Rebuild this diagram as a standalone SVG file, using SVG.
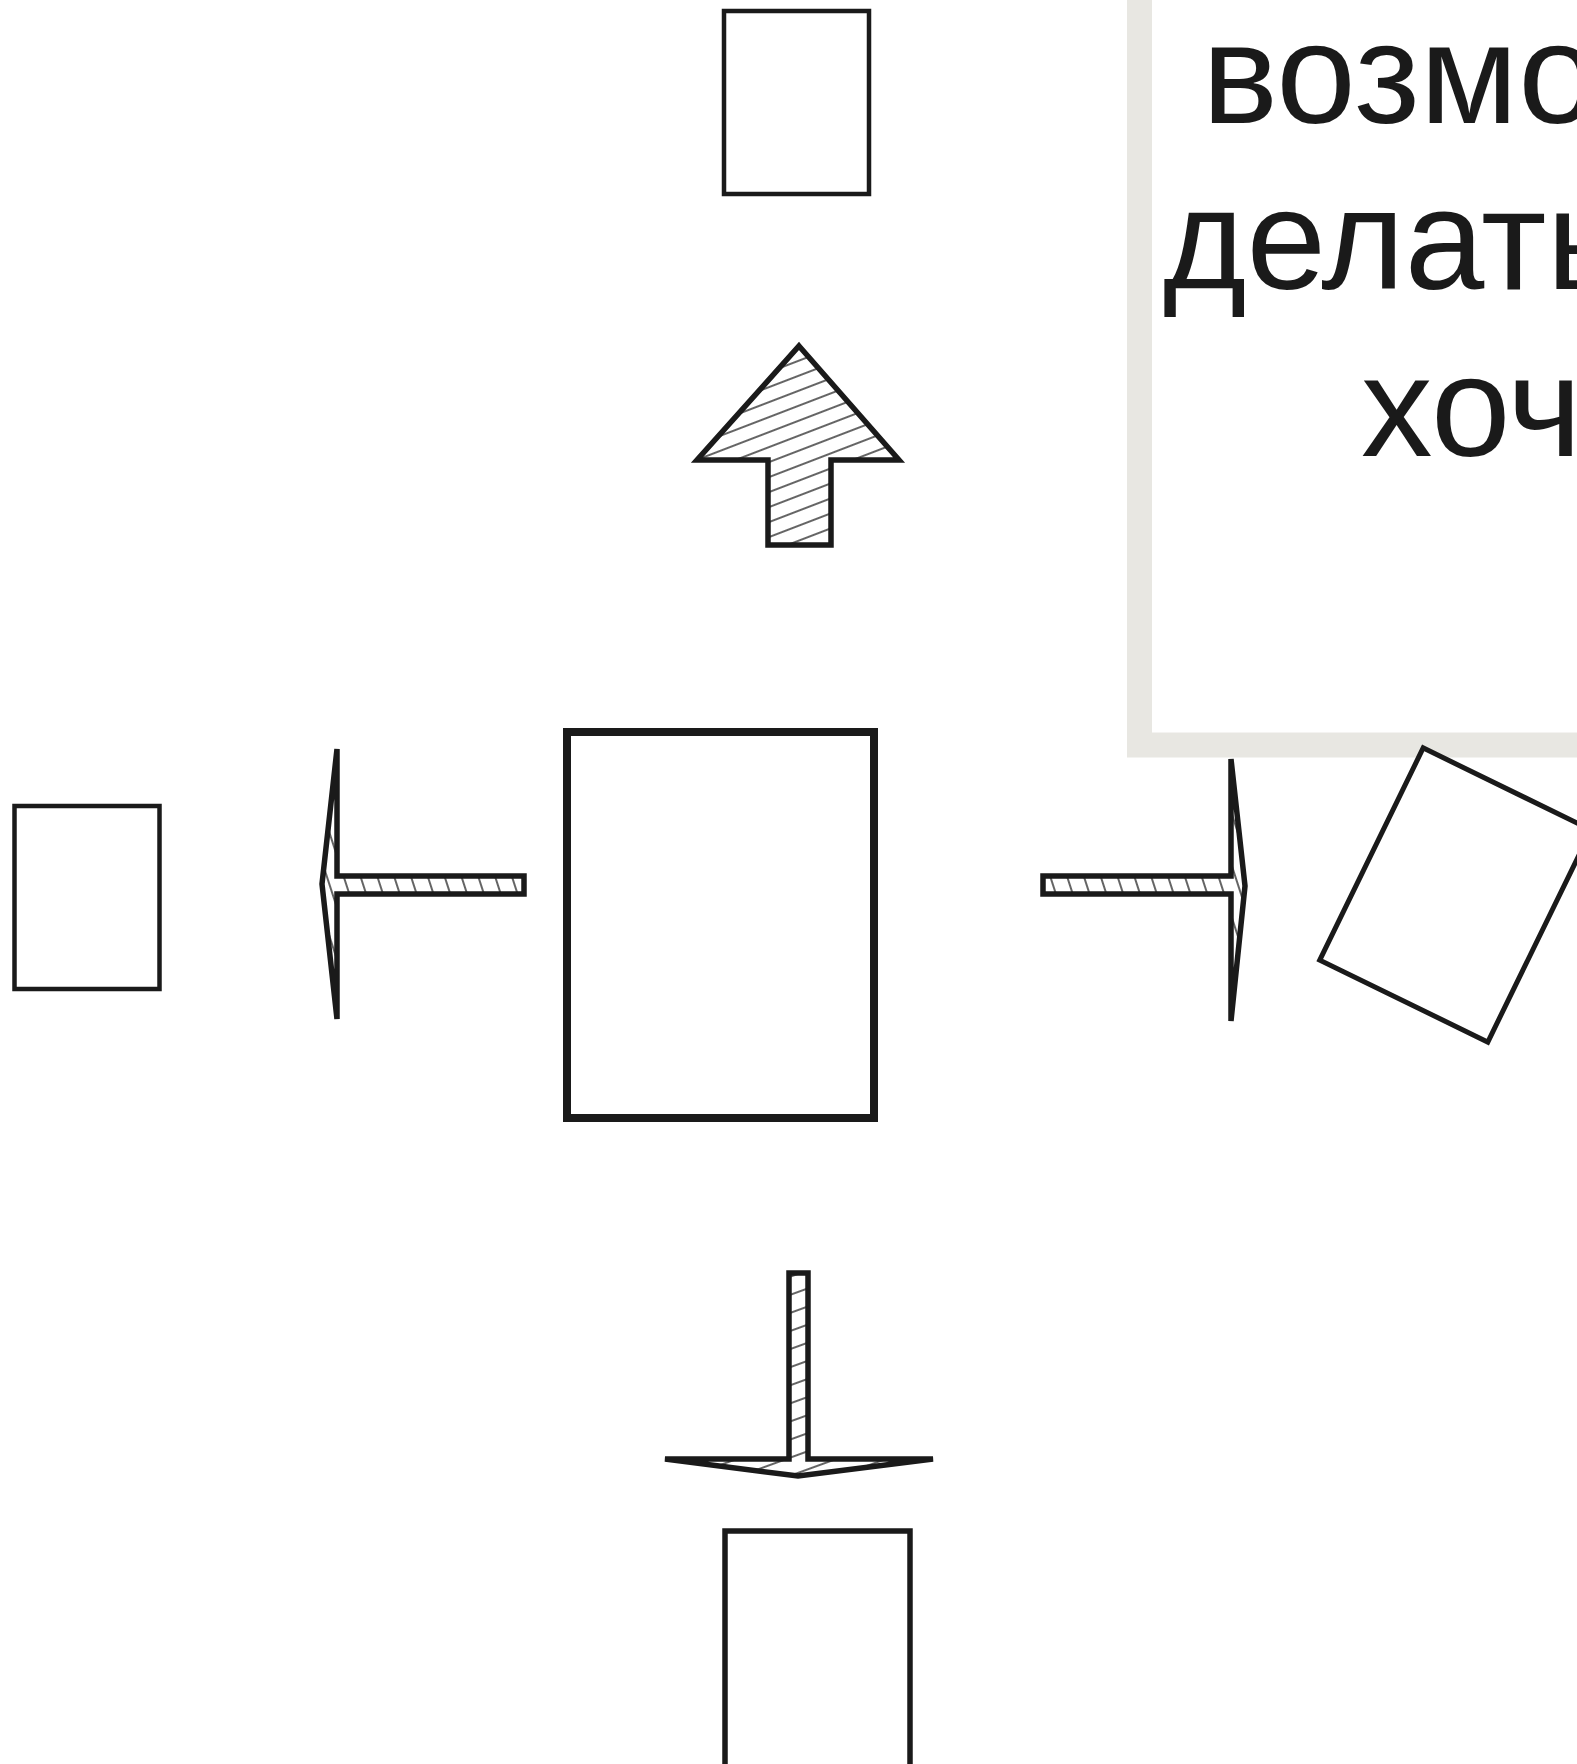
<svg xmlns="http://www.w3.org/2000/svg" width="1577" height="1764" viewBox="0 0 1577 1764">
<style>
.box{fill:#fff;stroke:#1a1a1a;stroke-width:4.5}
.arrow{stroke:#1a1a1a;stroke-width:5.5;stroke-linejoin:miter;stroke-miterlimit:4}
.txt{font-family:"Liberation Sans",Arial,sans-serif;font-size:143px;fill:#1a1a1a}
</style>
<defs>
<pattern id="hUp" patternUnits="userSpaceOnUse" width="14" height="14" patternTransform="rotate(-21)">
<rect width="14" height="14" fill="#fff"/>
<line x1="0" y1="7" x2="14" y2="7" stroke="#222" stroke-width="1.4"/>
</pattern>
<pattern id="hSide" patternUnits="userSpaceOnUse" width="16" height="16" patternTransform="rotate(-18)">
<rect width="16" height="16" fill="#fff"/>
<line x1="8" y1="0" x2="8" y2="16" stroke="#222" stroke-width="1.4"/>
</pattern>
<pattern id="hDown" patternUnits="userSpaceOnUse" width="17" height="17" patternTransform="rotate(-20)">
<rect width="17" height="17" fill="#fff"/>
<line x1="0" y1="8" x2="17" y2="8" stroke="#222" stroke-width="1.4"/>
</pattern>
</defs>
<rect width="1577" height="1764" fill="#fff"/>
<g id="note">
<rect x="1139.5" y="-60" width="520" height="805" fill="#fff" stroke="#e8e7e2" stroke-width="25"/>
<text class="txt" x="1202" y="123">возмо</text>
<text class="txt" x="1163" y="289">делать</text>
<text class="txt" x="1361" y="456">хоч</text>
</g>
<g id="top-box"><rect class="box" x="724" y="11" width="145" height="183"/></g>
<g id="left-box"><rect class="box" x="14.5" y="806" width="145" height="183"/></g>
<g id="center-box"><rect class="box" style="stroke-width:8" x="567" y="732" width="307" height="386"/></g>
<g id="bottom-box"><rect class="box" style="stroke-width:5.5" x="725" y="1531" width="185" height="250"/></g>
<g id="rotated-box"><rect class="box" style="stroke-width:5" x="-93.5" y="-118" width="187" height="236" transform="translate(1455.5,895) rotate(26)"/></g>
<g id="connectors">
<path class="arrow" fill="url(#hUp)" d="M799,346 L899,460 L831,460 L831,545 L768,545 L768,460 L697,460 Z"/>
<path class="arrow" fill="url(#hSide)" d="M524,876 L337,876 L337,749 L322,884 L337,1019 L337,894 L524,894 Z"/>
<path class="arrow" fill="url(#hSide)" d="M1043,876 L1231,876 L1231,759 L1245,886 L1231,1021 L1231,894 L1043,894 Z"/>
<path class="arrow" fill="url(#hDown)" d="M789,1273 L808,1273 L808,1459 L933,1459 L798,1476 L665,1459 L789,1459 Z"/>
</g>
</svg>
